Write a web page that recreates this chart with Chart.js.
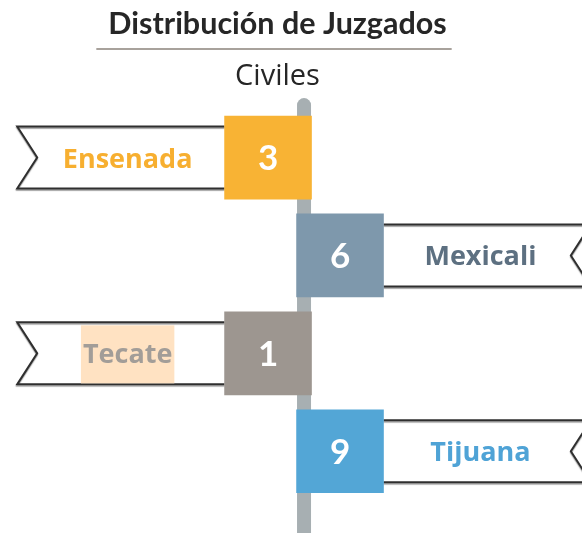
<!DOCTYPE html>
<html>
<head>
<meta charset="utf-8">
<script src="https://cdn.jsdelivr.net/npm/chart.js@4.4.1/dist/chart.umd.min.js"></script>
<style>
  html, body { margin: 0; background: #fff; }
  #wrap { width: 582px; height: 533px; }
</style>
</head>
<body>
<div id="wrap"><canvas id="c"></canvas></div>
<script>
// ---- data
const cities = ["Ensenada", "Mexicali", "Tecate", "Tijuana"];
const juzgados = [3, 6, 1, 9];
const boxColors = ["#F8B334", "#7E98AC", "#9D9690", "#53A6D6"];
const labelColors = ["#F7AF30", "#5D7081", "#A29D98", "#4FA3D6"];
const highlighted = ["Tecate"];

// x units: the pole sits at 0, the ribbon tips at -1 / +1; flags alternate sides
const side = i => (i % 2 === 0 ? -1 : 1);
const BOX_IN = 0.026, BOX_OUT = 0.277, LABEL_AT = 0.615, NOTCH = 20;
const TITLE_FONT = "Lato", LABEL_FONT = "'Open Sans'";

const boxData = cities.map((c, i) => side(i) < 0 ? [-BOX_OUT, BOX_IN] : [-BOX_IN, BOX_OUT]);
const ribbonData = cities.map((c, i) => side(i) < 0 ? [-1, -BOX_OUT] : [BOX_OUT, 1]);

// pole behind everything
const pole = {
  id: "pole",
  beforeDatasetsDraw(chart) {
    const { ctx, chartArea, scales } = chart;
    const x = scales.x.getPixelForValue(0);
    ctx.save();
    ctx.strokeStyle = "#A7AFB2";
    ctx.lineWidth = 14;
    ctx.lineCap = "round";
    ctx.beginPath();
    ctx.moveTo(x, chartArea.top - 3.5);
    ctx.lineTo(x, chart.height + 10);
    ctx.stroke();
    ctx.restore();
  },
};

// ribbon outline with a notched tip, drawn right after the ribbon bars
const ribbons = {
  id: "ribbons",
  afterDatasetDraw(chart, args) {
    if (args.index !== 1) return;
    const ctx = chart.ctx;
    ctx.save();
    ctx.strokeStyle = "#2F2F2F";
    ctx.lineWidth = 2;
    ctx.lineJoin = "miter";
    ctx.shadowColor = "rgba(0,0,0,0.35)";
    ctx.shadowOffsetY = 1.5;
    ctx.shadowBlur = 1;
    args.meta.data.forEach((el, i) => {
      const p = el.getProps(["x", "base", "y", "height"], true);
      const s = side(i);
      const outer = s < 0 ? Math.min(p.x, p.base) : Math.max(p.x, p.base);
      const inner = s < 0 ? Math.max(p.x, p.base) : Math.min(p.x, p.base);
      const top = p.y - p.height / 2, bot = p.y + p.height / 2;
      ctx.beginPath();
      ctx.moveTo(inner, top);
      ctx.lineTo(outer, top);
      ctx.lineTo(outer - s * NOTCH, p.y);
      ctx.lineTo(outer, bot);
      ctx.lineTo(inner, bot);
      ctx.stroke();
    });
    ctx.restore();
  },
};

// numbers in the boxes, city names in the ribbons, title rule
const labels = {
  id: "labels",
  afterDatasetsDraw(chart) {
    const { ctx, scales } = chart;
    const boxes = chart.getDatasetMeta(0).data;
    ctx.save();
    ctx.textAlign = "center";
    ctx.textBaseline = "alphabetic";
    boxes.forEach((el, i) => {
      const p = el.getProps(["x", "base", "y"], true);
      ctx.fillStyle = "#FFFFFF";
      ctx.font = `bold 35px ${TITLE_FONT}`;
      ctx.fillText(String(juzgados[i]), (p.x + p.base) / 2, p.y + 12.5);

      const lx = scales.x.getPixelForValue(side(i) * LABEL_AT);
      ctx.font = `bold 27px ${LABEL_FONT}`;
      if (highlighted.includes(cities[i])) {
        const w = ctx.measureText(cities[i]).width;
        ctx.fillStyle = "#FFE2C2";
        ctx.fillRect(lx - w / 2 - 2, p.y - 28, w + 4, 58);
      }
      ctx.fillStyle = labelColors[i];
      ctx.fillText(cities[i], lx, p.y + 10);
    });
    ctx.restore();
  },
  afterDraw(chart) {
    const { ctx } = chart;
    const tb = chart.titleBlock;
    const tf = chart.options.plugins.title.font;
    ctx.save();
    ctx.font = `bold ${tf.size}px ${TITLE_FONT}`;
    const w = ctx.measureText(chart.options.plugins.title.text).width;
    const cx = (tb.left + tb.right) / 2 - 3;
    ctx.strokeStyle = "#A8A29C";
    ctx.lineWidth = 2;
    ctx.beginPath();
    ctx.moveTo(cx - w / 2 - 9, 49);
    ctx.lineTo(cx + w / 2 + 8, 49);
    ctx.stroke();
    ctx.restore();
  },
};

new Chart(document.getElementById("c"), {
  type: "bar",
  data: {
    labels: cities,
    datasets: [
      { label: "Juzgados", data: boxData, backgroundColor: boxColors, borderWidth: 0, barThickness: 83 },
      { label: "ribbon", data: ribbonData, backgroundColor: "#FFFFFF", borderWidth: 0, barThickness: 62, clip: false },
    ],
  },
  options: {
    indexAxis: "y",
    responsive: true, maintainAspectRatio: false,
    animation: false, events: [],
    layout: { padding: { left: 0, right: 27, top: 0, bottom: 32.8 } },
    datasets: { bar: { grouped: false } },
    scales: {
      x: { display: false, min: -1.06, max: 0.875 },
      y: { display: false, offset: true, grid: { display: false } },
    },
    plugins: {
      legend: { display: false },
      tooltip: { enabled: false },
      title: {
        display: true, text: "Distribución de Juzgados", color: "#262626",
        font: { family: TITLE_FONT, size: 30.5, weight: "bold" }, padding: { top: 5.5, bottom: 2 },
      },
      subtitle: {
        display: true, text: "Civiles", color: "#262626",
        font: { family: LABEL_FONT, size: 29, weight: "normal" }, padding: { top: 15.6, bottom: 14.1 },
      },
    },
  },
  plugins: [pole, ribbons, labels],
});
</script>
</body>
</html>
